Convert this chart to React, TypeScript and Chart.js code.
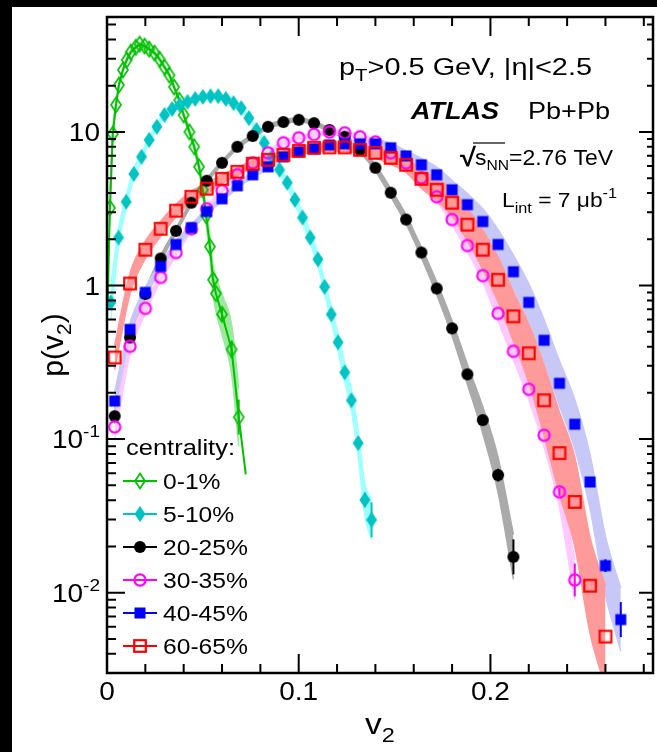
import React, { useEffect, useRef } from "react";
import { Chart, registerables } from "chart.js";
Chart.register(...registerables);

const W = 657;
const H = 752;
const CW = 659;
const FONT = "'Liberation Sans', Arial, Helvetica, sans-serif";
const SX = 1.12;

// ---------------- data ----------------
const legendLabels = ["0-1%", "5-10%", "20-25%", "30-35%", "40-45%", "60-65%"];
const legendTitle = "centrality:";

const greenX = [0.0015, 0.003, 0.0047, 0.0062, 0.0083, 0.0103, 0.0124, 0.015, 0.017, 0.0196, 0.022, 0.0248, 0.0274, 0.03, 0.0326, 0.035, 0.0377, 0.04, 0.043, 0.0455, 0.048, 0.05, 0.0517, 0.0537, 0.0553, 0.0568, 0.06, 0.065, 0.0687];
const greenY = [3.2, 9.7, 15.0, 20.2, 25.3, 29.4, 33.1, 35.6, 37.3, 36.2, 34.6, 32.6, 29.8, 26.4, 23.4, 19.6, 16.1, 12.9, 10.0, 8.0, 5.93, 4.2, 2.85, 1.79, 1.09, 0.887, 0.649, 0.384, 0.139];
const greenSys = [0.3, 0.1, 0.05, 0.04, 0.03, 0.03, 0.03, 0.03, 0.03, 0.03, 0.03, 0.03, 0.03, 0.03, 0.03, 0.03, 0.03, 0.04, 0.05, 0.06, 0.08, 0.1, 0.13, 0.18, 0.25, 0.3, 0.35, 0.45, 0.55];
const greenLineStart = [0.0003, 0.7];
const greenLineEnd = [0.0724, 0.059];
const greenErr = [[0.06, 0.1], [0.065, 0.14], [0.0687, 0.3]];

const cyanX = [0.002, 0.006, 0.01, 0.014, 0.018, 0.022, 0.026, 0.03, 0.034, 0.038, 0.042, 0.046, 0.05, 0.054, 0.058, 0.062, 0.066, 0.07, 0.074, 0.078, 0.082, 0.086, 0.09, 0.094, 0.098, 0.102, 0.106, 0.11, 0.1135, 0.117, 0.1205, 0.124, 0.1275, 0.131, 0.1345, 0.138];
const cyanY = [0.776, 2.05, 3.51, 5.33, 6.88, 8.87, 10.8, 12.9, 14.1, 15.0, 15.7, 16.4, 16.9, 17.1, 17.1, 16.4, 15.4, 14.3, 12.3, 10.3, 8.49, 6.88, 5.67, 4.67, 3.62, 2.77, 2.05, 1.48, 0.98, 0.649, 0.427, 0.272, 0.179, 0.0942, 0.0402, 0.0298];
const cyanSys = [0.3, 0.15, 0.1, 0.08, 0.06, 0.05, 0.04, 0.04, 0.03, 0.03, 0.03, 0.03, 0.03, 0.03, 0.03, 0.03, 0.03, 0.03, 0.03, 0.04, 0.04, 0.05, 0.05, 0.06, 0.07, 0.08, 0.09, 0.1, 0.11, 0.12, 0.14, 0.16, 0.18, 0.22, 0.28, 0.35];
const cyanErr = [[0.1345, 0.12], [0.138, 0.3]];

const blackX = [0.004, 0.012, 0.02, 0.028, 0.036, 0.044, 0.052, 0.06, 0.068, 0.076, 0.084, 0.092, 0.1, 0.108, 0.116, 0.124, 0.132, 0.14, 0.148, 0.156, 0.164, 0.172, 0.18, 0.188, 0.196, 0.204, 0.212];
const blackY = [0.141, 0.459, 0.88, 1.5, 2.27, 3.46, 4.81, 6.29, 8.0, 9.4, 10.8, 11.6, 12.0, 11.4, 10.3, 9.3, 7.64, 5.84, 4.02, 2.69, 1.64, 0.957, 0.526, 0.264, 0.133, 0.0583, 0.0171];
const blackSys = [0.12, 0.08, 0.06, 0.05, 0.04, 0.04, 0.03, 0.03, 0.03, 0.03, 0.03, 0.03, 0.03, 0.03, 0.03, 0.03, 0.04, 0.05, 0.06, 0.07, 0.08, 0.1, 0.12, 0.16, 0.22, 0.3, 0.4];
const blackErr = [[0.204, 0.1], [0.212, 0.3]];

const magentaX = [0.004, 0.012, 0.02, 0.028, 0.036, 0.044, 0.052, 0.06, 0.068, 0.076, 0.084, 0.092, 0.1, 0.108, 0.116, 0.124, 0.132, 0.14, 0.148, 0.156, 0.164, 0.172, 0.18, 0.188, 0.196, 0.204, 0.212, 0.22, 0.228, 0.236, 0.244];
const magentaY = [0.12, 0.402, 0.71, 1.13, 1.64, 2.34, 3.16, 4.14, 5.26, 6.29, 7.31, 8.49, 9.15, 9.63, 10.0, 9.86, 9.29, 8.61, 7.31, 6.29, 5.02, 3.78, 2.69, 1.82, 1.16, 0.658, 0.373, 0.211, 0.106, 0.0453, 0.0121];
const magentaSys = [0.2, 0.12, 0.08, 0.06, 0.05, 0.04, 0.04, 0.03, 0.03, 0.03, 0.03, 0.03, 0.03, 0.03, 0.03, 0.03, 0.03, 0.04, 0.04, 0.05, 0.06, 0.07, 0.08, 0.09, 0.1, 0.12, 0.14, 0.17, 0.2, 0.26, 0.35];
const magentaErr = [[0.236, 0.06], [0.244, 0.28]];

const blueX = [0.004, 0.012, 0.02, 0.028, 0.036, 0.044, 0.052, 0.06, 0.068, 0.076, 0.084, 0.092, 0.1, 0.108, 0.116, 0.124, 0.132, 0.14, 0.148, 0.156, 0.164, 0.172, 0.18, 0.188, 0.196, 0.204, 0.212, 0.22, 0.228, 0.236, 0.244, 0.252, 0.26, 0.268];
const blueY = [0.177, 0.518, 0.902, 1.33, 1.85, 2.38, 3.03, 3.67, 4.46, 5.26, 5.93, 6.88, 7.41, 7.76, 8.24, 8.36, 8.36, 8.36, 7.88, 6.98, 6.11, 5.26, 4.2, 3.36, 2.61, 1.85, 1.23, 0.776, 0.44, 0.231, 0.125, 0.0526, 0.015, 0.00668];
const blueSys = [0.15, 0.1, 0.08, 0.06, 0.05, 0.05, 0.04, 0.04, 0.04, 0.04, 0.04, 0.04, 0.04, 0.04, 0.04, 0.04, 0.05, 0.06, 0.07, 0.08, 0.1, 0.12, 0.15, 0.18, 0.21, 0.25, 0.28, 0.32, 0.36, 0.4, 0.45, 0.5, 0.55, 0.6];
const blueErr = [[0.252, 0.06], [0.26, 0.1], [0.268, 0.3]];

const redX = [0.004, 0.012, 0.02, 0.028, 0.036, 0.044, 0.052, 0.06, 0.068, 0.076, 0.084, 0.092, 0.1, 0.108, 0.116, 0.124, 0.132, 0.14, 0.148, 0.156, 0.164, 0.172, 0.18, 0.188, 0.196, 0.204, 0.212, 0.22, 0.228, 0.236, 0.244, 0.252, 0.26];
const redY = [0.34, 1.03, 1.71, 2.34, 3.07, 3.78, 4.27, 4.95, 5.5, 6.2, 6.58, 7.09, 7.53, 7.88, 7.93, 7.93, 7.64, 7.31, 6.78, 6.11, 4.95, 4.2, 3.46, 2.49, 1.71, 1.09, 0.63, 0.362, 0.179, 0.0811, 0.039, 0.0111, 0.00518];
const redSys = [0.2, 0.17, 0.14, 0.12, 0.1, 0.09, 0.08, 0.07, 0.06, 0.06, 0.06, 0.06, 0.06, 0.06, 0.06, 0.06, 0.07, 0.08, 0.1, 0.12, 0.15, 0.18, 0.22, 0.28, 0.34, 0.4, 0.45, 0.55, 0.7, 0.85, 0.95, 1.05, 1.15];
const redErr: number[][] = [];

const xTickValues = [0, 0.1, 0.2];
const xTickLabels = ["0", "0.1", "0.2"];
const yTickValues = [0.01, 0.1, 1, 10];
const yTickBase = ["10", "10", "1", "10"];
const yTickExp = ["-2", "-1", "", ""];

const X_MIN = 0;
const X_MAX = 0.2848;
const Y_MIN = 0.003;
const Y_MAX = 56;

// ---------------- styles ----------------
type Series = {
  x: number[]; y: number[]; sys: number[]; err: number[][];
  color: string; band: string; marker: string;
};
const SERIES: Series[] = [
  { x: greenX, y: greenY, sys: greenSys, err: greenErr, color: "#00c000", band: "#9ee89e", marker: "diamondOpen" },
  { x: cyanX, y: cyanY, sys: cyanSys, err: cyanErr, color: "#00c4c4", band: "#a0ffff", marker: "diamond" },
  { x: blackX, y: blackY, sys: blackSys, err: blackErr, color: "#000000", band: "#aaaaaa", marker: "circle" },
  { x: magentaX, y: magentaY, sys: magentaSys, err: magentaErr, color: "#ff00ff", band: "#ffc8ff", marker: "circleOpen" },
  { x: blueX, y: blueY, sys: blueSys, err: blueErr, color: "#0000ff", band: "#c8c8f8", marker: "square" },
  { x: redX, y: redY, sys: redSys, err: redErr, color: "#ff0000", band: "#ff9a9a", marker: "squareOpen" },
];

function makeMarker(kind: string, color: string): HTMLCanvasElement {
  const c = document.createElement("canvas");
  c.width = 20;
  c.height = 20;
  const g = c.getContext("2d") as CanvasRenderingContext2D;
  g.translate(10, 10);
  g.fillStyle = color;
  g.strokeStyle = color;
  g.beginPath();
  if (kind === "diamondOpen") {
    g.lineWidth = 1.7;
    g.moveTo(0, -7.5); g.lineTo(5, 0); g.lineTo(0, 7.5); g.lineTo(-5, 0); g.closePath();
    g.stroke();
  } else if (kind === "diamond") {
    g.moveTo(0, -8); g.lineTo(5.5, 0); g.lineTo(0, 8); g.lineTo(-5.5, 0); g.closePath();
    g.fill();
  } else if (kind === "circle") {
    g.arc(0, 0, 6, 0, Math.PI * 2);
    g.fill();
  } else if (kind === "circleOpen") {
    g.lineWidth = 2.2;
    g.arc(0, 0, 5.6, 0, Math.PI * 2);
    g.stroke();
  } else if (kind === "square") {
    g.fillRect(-5.5, -5.5, 11, 11);
  } else {
    g.lineWidth = 2.2;
    g.strokeRect(-5.8, -5.8, 11.6, 11.6);
  }
  return c;
}

type Part = { t: string; size: number; dy?: number; weight?: string; style?: string };
function drawRich(ctx: CanvasRenderingContext2D, x: number, y: number, parts: Part[], align = "left", width = 0) {
  ctx.save();
  ctx.textBaseline = "alphabetic";
  ctx.textAlign = "left";
  const fontOf = (p: Part) => `${p.style || "normal"} ${p.weight || "normal"} ${p.size}px ${FONT}`;
  let total = 0;
  for (const p of parts) {
    ctx.font = fontOf(p);
    total += ctx.measureText(p.t).width;
  }
  const sx = width > 0 ? width / total : SX;
  ctx.translate(x, y);
  ctx.scale(sx, 1);
  let cx = align === "left" ? 0 : align === "center" ? -total / 2 : -total;
  for (const p of parts) {
    ctx.font = fontOf(p);
    ctx.fillText(p.t, cx, p.dy || 0);
    cx += ctx.measureText(p.t).width;
  }
  ctx.restore();
}

let MARKERS: HTMLCanvasElement[] = [];

const decor = {
  id: "decor",
  beforeDraw(chart: any) {
    const ctx = chart.ctx as CanvasRenderingContext2D;
    ctx.save();
    ctx.fillStyle = "#ffffff";
    ctx.fillRect(0, 0, CW, H);
    ctx.fillStyle = "#000000";
    ctx.fillRect(0, 0, CW, 7);
    ctx.fillRect(0, 0, 12, H);
    ctx.restore();
  },
  afterDatasetsDraw(chart: any) {
    const ctx = chart.ctx as CanvasRenderingContext2D;
    const xs = chart.scales.x;
    const ys = chart.scales.y;
    ctx.save();
    ctx.lineWidth = 2;
    SERIES.forEach((s) => {
      ctx.strokeStyle = s.color;
      s.err.forEach(([xv, e]) => {
        const i = s.x.indexOf(xv);
        if (i < 0) return;
        const v = s.y[i];
        const px = xs.getPixelForValue(xv);
        ctx.beginPath();
        ctx.moveTo(px, ys.getPixelForValue(v * (1 + e)));
        ctx.lineTo(px, ys.getPixelForValue(v / (1 + e)));
        ctx.stroke();
      });
    });
    ctx.restore();
  },
  afterDraw(chart: any) {
    const ctx = chart.ctx as CanvasRenderingContext2D;
    const a = chart.chartArea;
    const xs = chart.scales.x;
    const ys = chart.scales.y;
    ctx.save();
    ctx.fillStyle = "#000";
    ctx.strokeStyle = "#000";
    ctx.lineWidth = 2;
    ctx.beginPath();
    for (let k = 0; k <= 14; k++) {
      const v = k * 0.02;
      if (v > X_MAX) break;
      const px = xs.getPixelForValue(v);
      const major = k % 5 === 0;
      const len = major ? 19 : 9;
      ctx.moveTo(px, a.bottom); ctx.lineTo(px, a.bottom - len);
      ctx.moveTo(px, a.top); ctx.lineTo(px, a.top + len);
    }
    for (let e = -3; e <= 1; e++) {
      for (let m = 1; m <= 9; m++) {
        const v = m * Math.pow(10, e);
        if (v < Y_MIN || v > Y_MAX) continue;
        const py = ys.getPixelForValue(v);
        const major = m === 1;
        ctx.moveTo(a.left, py); ctx.lineTo(a.left + (major ? 18 : 9), py);
        ctx.moveTo(a.right, py); ctx.lineTo(a.right - (major ? 14 : 6), py);
      }
    }
    ctx.stroke();
    ctx.lineWidth = 2.5;
    ctx.strokeRect(a.left, a.top, a.right - a.left, a.bottom - a.top);

    xTickValues.forEach((v, i) => {
      drawRich(ctx, xs.getPixelForValue(v), a.bottom + 27, [{ t: xTickLabels[i], size: 25 }], "center");
    });
    yTickValues.forEach((v, i) => {
      const py = ys.getPixelForValue(v);
      const parts: Part[] = [{ t: yTickBase[i], size: 25 }];
      if (yTickExp[i]) parts.push({ t: yTickExp[i], size: 17, dy: -11 });
      drawRich(ctx, a.left - 7, py + 9, parts, "right");
    });
    drawRich(ctx, 380, 734, [{ t: "v", size: 30 }, { t: "2", size: 21, dy: 8 }], "center");
    ctx.save();
    ctx.translate(63, 345);
    ctx.rotate(-Math.PI / 2);
    const parts: Part[] = [{ t: "p(v", size: 30 }, { t: "2", size: 21, dy: 8 }, { t: ")", size: 30 }];
    let total = 0;
    for (const p of parts) { ctx.font = `${p.size}px ${FONT}`; total += ctx.measureText(p.t).width; }
    let cx = -total / 2;
    for (const p of parts) { ctx.font = `${p.size}px ${FONT}`; ctx.fillText(p.t, cx, p.dy || 0); cx += ctx.measureText(p.t).width; }
    ctx.restore();

    drawRich(ctx, 339, 75, [{ t: "p", size: 24 }, { t: "T", size: 17, dy: 6 }, { t: ">0.5 GeV, |η|<2.5", size: 24 }], "left", 253);
    drawRich(ctx, 411, 119, [{ t: "ATLAS", size: 24, weight: "bold", style: "italic" }], "left", 88);
    drawRich(ctx, 528, 119, [{ t: "Pb+Pb", size: 24 }], "left", 82);
    drawRich(ctx, 460, 166, [{ t: "√", size: 26, weight: "bold" }]);
    ctx.lineWidth = 1.2;
    ctx.beginPath(); ctx.moveTo(473, 143); ctx.lineTo(505, 143); ctx.stroke();
    drawRich(ctx, 475, 165, [{ t: "s", size: 22 }, { t: "NN", size: 15, dy: 5 }, { t: "=2.76 TeV", size: 22 }], "left", 138);
    drawRich(ctx, 502, 207, [{ t: "L", size: 21 }, { t: "int", size: 15, dy: 6 }, { t: " = 7 μb", size: 21 }, { t: "-1", size: 15, dy: -9 }], "left", 115);

    drawRich(ctx, 126, 455, [{ t: legendTitle, size: 22 }], "left", 109);
    const ly = [481, 514, 547, 580, 613, 646];
    SERIES.forEach((s, i) => {
      ctx.strokeStyle = s.color;
      ctx.lineWidth = 2;
      ctx.beginPath(); ctx.moveTo(123, ly[i]); ctx.lineTo(157, ly[i]); ctx.stroke();
      ctx.drawImage(MARKERS[i], 130, ly[i] - 10);
      drawRich(ctx, 163, ly[i] + 8, [{ t: legendLabels[i], size: 22 }]);
    });
    ctx.restore();
  },
};

export default function App() {
  const ref = useRef<HTMLCanvasElement | null>(null);
  useEffect(() => {
    document.documentElement.style.background = "#fff";
    document.documentElement.style.overflow = "hidden";
    document.body.style.margin = "0";
    document.body.style.background = "#fff";
    if (!ref.current) return;
    MARKERS = SERIES.map((s) => makeMarker(s.marker, s.color));
    const datasets: any[] = [];
    SERIES.forEach((s, i) => {
      const bandOrder = 30 - i;
      datasets.push({
        data: s.x.map((x, k) => ({ x, y: s.y[k] * (1 + s.sys[k]) })),
        borderColor: s.band, backgroundColor: s.band, borderWidth: 1.5,
        pointRadius: 0, fill: "+1", order: bandOrder, cubicInterpolationMode: "monotone",
      });
      datasets.push({
        data: s.x.map((x, k) => ({ x, y: s.y[k] / (1 + s.sys[k]) })),
        borderColor: s.band, backgroundColor: s.band, borderWidth: 1.5,
        pointRadius: 0, fill: false, order: bandOrder, cubicInterpolationMode: "monotone",
      });
    });
    datasets.push({
      data: [
        { x: greenLineStart[0], y: greenLineStart[1] },
        ...greenX.map((x, k) => ({ x, y: greenY[k] })),
        { x: greenLineEnd[0], y: greenLineEnd[1] },
      ],
      borderColor: SERIES[0].color, borderWidth: 2, pointRadius: 0, fill: false, order: 15,
    });
    SERIES.forEach((s, i) => {
      datasets.push({
        data: s.x.map((x, k) => ({ x, y: s.y[k] })),
        showLine: false, pointStyle: MARKERS[i], pointRadius: 5, fill: false,
        borderColor: s.color, backgroundColor: s.color, order: 6 - i,
      });
    });
    const chart = new Chart(ref.current, {
      type: "line",
      data: { datasets },
      options: {
        responsive: false,
        animation: false,
        devicePixelRatio: 1,
        layout: { padding: { left: 107, right: 1, top: 17, bottom: 79 } },
        plugins: { legend: { display: false }, tooltip: { enabled: false } },
        scales: {
          x: { type: "linear", min: X_MIN, max: X_MAX, display: false },
          y: { type: "logarithmic", min: Y_MIN, max: Y_MAX, display: false },
        },
      },
      plugins: [decor],
    } as any);
    return () => chart.destroy();
  }, []);
  return (
    <div style={{ position: "fixed", left: 0, top: 0, width: W, height: H, background: "#fff", overflow: "hidden" }}>
      <canvas ref={ref} width={CW} height={H} style={{ display: "block", width: CW, height: H }} />
    </div>
  );
}
